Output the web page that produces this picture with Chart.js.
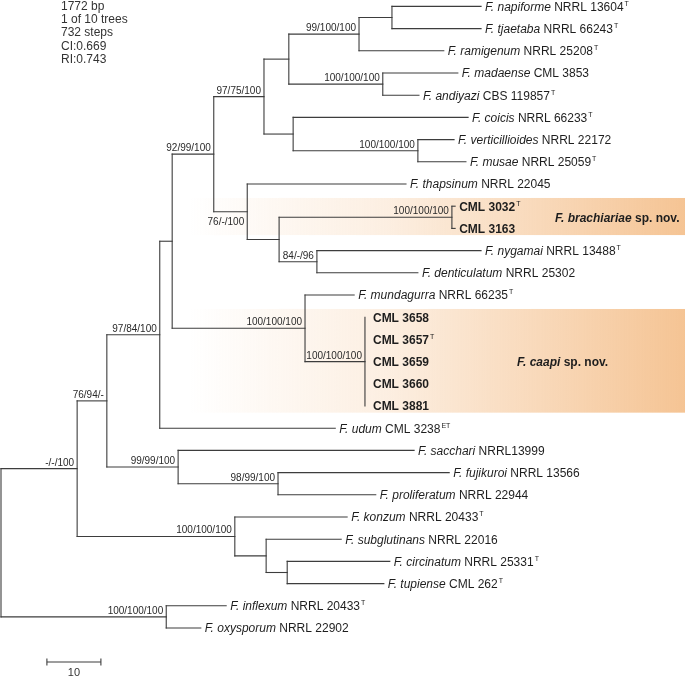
<!DOCTYPE html>
<html>
<head>
<meta charset="utf-8">
<script src="https://cdn.jsdelivr.net/npm/chart.js@4.4.0/dist/chart.umd.min.js"></script>
<style>
  body { margin: 0; background: #fff; }
  canvas { display: block; }
</style>
</head>
<body>
<canvas id="tree" width="685" height="676"></canvas>
<script>
// Tips, top to bottom (italic species, strain, superscript mark)
const tipSpecies = ['F. napiforme', 'F. tjaetaba', 'F. ramigenum', 'F. madaense', 'F. andiyazi',
  'F. coicis', 'F. verticillioides', 'F. musae', 'F. thapsinum', '', '', 'F. nygamai',
  'F. denticulatum', 'F. mundagurra', '', '', '', '', '', 'F. udum', 'F. sacchari',
  'F. fujikuroi', 'F. proliferatum', 'F. konzum', 'F. subglutinans', 'F. circinatum',
  'F. tupiense', 'F. inflexum', 'F. oxysporum'];
const tipStrain = ['NRRL 13604', 'NRRL 66243', 'NRRL 25208', 'CML 3853', 'CBS 119857',
  'NRRL 66233', 'NRRL 22172', 'NRRL 25059', 'NRRL 22045', 'CML 3032', 'CML 3163', 'NRRL 13488',
  'NRRL 25302', 'NRRL 66235', 'CML 3658', 'CML 3657', 'CML 3659', 'CML 3660', 'CML 3881',
  'CML 3238', 'NRRL13999', 'NRRL 13566', 'NRRL 22944', 'NRRL 20433', 'NRRL 22016',
  'NRRL 25331', 'CML 262', 'NRRL 20433', 'NRRL 22902'];
const tipMark = ['T', 'T', 'T', '', 'T', 'T', '', 'T', '', 'T', '', 'T', '', 'T', '', 'T', '', '', '',
  'ET', '', '', '', 'T', '', 'T', 'T', 'T', ''];
// distance from root (substitutions, scale bar = 10)
const tipDepth = [88.9, 88.9, 82.0, 84.6, 77.4, 86.5, 83.9, 86.1, 75.0, 84.1, 84.1, 88.9, 77.2,
  65.4, 67.4, 67.4, 67.4, 67.4, 67.4, 61.9, 76.5, 83.0, 69.4, 64.1, 63.0, 72.0, 70.9, 41.7, 37.0];

// Internal nodes
const nodeNames = ['root', 'nA', 'nB', 'nC', 'nD', 'nE', 'nF', 'nG', 'nH', 'nNapi', 'nMada',
  'nCoic', 'nVert', 'nThap', 'nNyBr', 'nBrac', 'nNyga', 'nMund', 'nCaap', 'nSacc', 'nFuji',
  'nKonz', 'nSubg', 'nCirc', 'nInfl'];
const nodeDepth = [0, 14.1, 19.6, 29.4, 31.7, 39.4, 48.7, 53.3, 66.3, 72.4, 70.7,
  54.1, 77.2, 45.6, 51.5, 83.5, 58.5, 56.3, 67.4, 32.8, 51.3,
  43.3, 49.1, 53.0, 30.6];
const nodeChildren = [['nA', 'nInfl'], ['nB', 'nKonz'], ['nC', 'nSacc'], ['nD', 't19'],
  ['nE', 'nMund'], ['nF', 'nThap'], ['nG', 'nCoic'], ['nH', 'nMada'], ['nNapi', 't2'],
  ['t0', 't1'], ['t3', 't4'], ['t5', 'nVert'], ['t6', 't7'], ['t8', 'nNyBr'], ['nBrac', 'nNyga'],
  ['t9', 't10'], ['t11', 't12'], ['t13', 'nCaap'], ['t14', 't15', 't16', 't17', 't18'],
  ['t20', 'nFuji'], ['t21', 't22'], ['t23', 'nSubg'], ['t24', 'nCirc'], ['t25', 't26'],
  ['t27', 't28']];
const nodeSupport = ['', '-/-/100', '76/94/-', '97/84/100', '', '92/99/100', '97/75/100', '',
  '99/100/100', '', '100/100/100', '', '100/100/100', '76/-/100', '', '100/100/100', '84/-/96',
  '100/100/100', '100/100/100', '99/99/100', '98/99/100', '100/100/100', '', '', '100/100/100'];

// New species clades (first and last tip)
const cladeName = ['F. brachiariae', 'F. caapi'];
const cladeFirst = [9, 14];
const cladeLast = [10, 18];

const statsLines = ['1772 bp', '1 of 10 trees', '732 steps', 'CI:0.669', 'RI:0.743'];
const scaleBarLength = 10;

// ---- layout ----
const PX_PER_UNIT = 5.4;
const ROW = 22.2, TOP = 6.4;
const W = 685, H = 676;
const FONT = "'Liberation Sans', Arial, sans-serif";
const LINE = '#3d3d3d';

function isTip(id) { return id[0] === 't'; }
function depthOf(id) {
  return isTip(id) ? tipDepth[+id.slice(1)] : nodeDepth[nodeNames.indexOf(id)];
}
function yOf(id) {
  if (isTip(id)) return +id.slice(1);
  const kids = nodeChildren[nodeNames.indexOf(id)];
  return (yOf(kids[0]) + yOf(kids[kids.length - 1])) / 2;
}
function parentDepth(tip) {
  const k = nodeChildren.findIndex(c => c.includes('t' + tip));
  return nodeDepth[k];
}

// branch segments
const segments = [];
nodeNames.forEach((id, k) => {
  const x = nodeDepth[k];
  const kids = nodeChildren[k];
  segments.push([{x, y: yOf(kids[0])}, {x, y: yOf(kids[kids.length - 1])}]);
  kids.forEach(c => {
    if (depthOf(c) > x) segments.push([{x, y: yOf(c)}, {x: depthOf(c), y: yOf(c)}]);
  });
});

const datasets = segments.map(s => ({
  data: s, showLine: true, borderColor: LINE, borderWidth: 1.1,
  pointRadius: 0, borderCapStyle: 'square', clip: false
}));

// scale bar
const barY = (662 - TOP) / ROW;
const barX = 8.5;
datasets.push({
  data: [{x: barX, y: barY}, {x: barX + scaleBarLength, y: barY}],
  showLine: true, borderColor: LINE, borderWidth: 1.1,
  pointStyle: 'line', rotation: 90, pointRadius: 3.5, pointBorderWidth: 1.1,
  pointBorderColor: LINE, clip: false
});

function drawRuns(ctx, x, y, runs) {
  runs.forEach(r => {
    ctx.font = r.font;
    ctx.fillText(r.text, x, y + (r.dy || 0));
    x += ctx.measureText(r.text).width + (r.after || 0);
  });
  return x;
}

const treePlugin = {
  id: 'tree',
  beforeDatasetsDraw(chart) {
    const {ctx, scales: {x: sx, y: sy}} = chart;
    ctx.save();
    cladeName.forEach((name, i) => {
      const top = sy.getPixelForValue(cladeFirst[i] - 0.37);
      const bot = sy.getPixelForValue(cladeLast[i] + 0.3);
      const left = 190, right = W;
      const g = ctx.createLinearGradient(left, 0, right, 0);
      g.addColorStop(0, 'rgba(245,196,148,0)');
      g.addColorStop(0.4, 'rgba(245,196,148,0.28)');
      g.addColorStop(1, 'rgba(245,196,148,1)');
      ctx.fillStyle = g;
      ctx.fillRect(left, top, right - left, bot - top);
    });
    ctx.restore();
  },
  afterDatasetsDraw(chart) {
    const {ctx, scales: {x: sx, y: sy}} = chart;
    ctx.save();
    ctx.textBaseline = 'alphabetic';
    ctx.fillStyle = '#1e1e1e';

    // tip labels
    const bold = new Set();
    cladeFirst.forEach((f, i) => { for (let t = f; t <= cladeLast[i]; t++) bold.add(t); });
    tipStrain.forEach((strain, i) => {
      let x = sx.getPixelForValue(tipDepth[i]) + 4;
      if (tipDepth[i] === parentDepth(i)) x += 4;
      const y = sy.getPixelForValue(i) + 4.3;
      const runs = [];
      if (bold.has(i)) {
        runs.push({text: strain, font: 'bold 12px ' + FONT, after: 1});
      } else {
        runs.push({text: tipSpecies[i] + ' ', font: 'italic 12px ' + FONT});
        runs.push({text: strain, font: '12px ' + FONT, after: 1});
      }
      if (tipMark[i]) runs.push({text: tipMark[i], font: '7px ' + FONT, dy: -5});
      drawRuns(ctx, x, y, runs);
    });

    // support values
    ctx.fillStyle = '#2a2a2a';
    ctx.textAlign = 'right';
    ctx.font = '10px ' + FONT;
    nodeNames.forEach((id, k) => {
      if (!nodeSupport[k]) return;
      const x = sx.getPixelForValue(nodeDepth[k]) - 3;
      const y = sy.getPixelForValue(yOf(id));
      if (id === 'nThap') ctx.fillText(nodeSupport[k], x, y + 13);
      else ctx.fillText(nodeSupport[k], x, y - 3);
    });

    // new species names
    ctx.textAlign = 'left';
    ctx.fillStyle = '#1e1e1e';
    const cladeX = [555, 517];
    cladeName.forEach((name, i) => {
      const y = sy.getPixelForValue((cladeFirst[i] + cladeLast[i]) / 2) + 4.3;
      drawRuns(ctx, cladeX[i], y, [
        {text: name, font: 'italic bold 12px ' + FONT},
        {text: ' sp. nov.', font: 'bold 12px ' + FONT}
      ]);
    });

    // stats
    ctx.font = '12px ' + FONT;
    ctx.fillStyle = '#333';
    statsLines.forEach((s, i) => ctx.fillText(s, 61, 9.6 + i * 13.3));

    // scale bar label
    ctx.textAlign = 'center';
    ctx.font = '11px ' + FONT;
    ctx.fillText(String(scaleBarLength), sx.getPixelForValue(barX + scaleBarLength / 2), 675.5);
    ctx.restore();
  }
};

new Chart(document.getElementById('tree'), {
  type: 'scatter',
  data: {datasets},
  options: {
    responsive: false,
    animation: false,
    layout: {padding: 0, autoPadding: false},
    plugins: {legend: {display: false}, tooltip: {enabled: false}},
    scales: {
      x: {type: 'linear', display: false, min: -1 / PX_PER_UNIT, max: -1 / PX_PER_UNIT + W / PX_PER_UNIT},
      y: {type: 'linear', display: false, reverse: true, min: -TOP / ROW, max: (H - TOP) / ROW}
    }
  },
  plugins: [treePlugin]
});
</script>
</body>
</html>
